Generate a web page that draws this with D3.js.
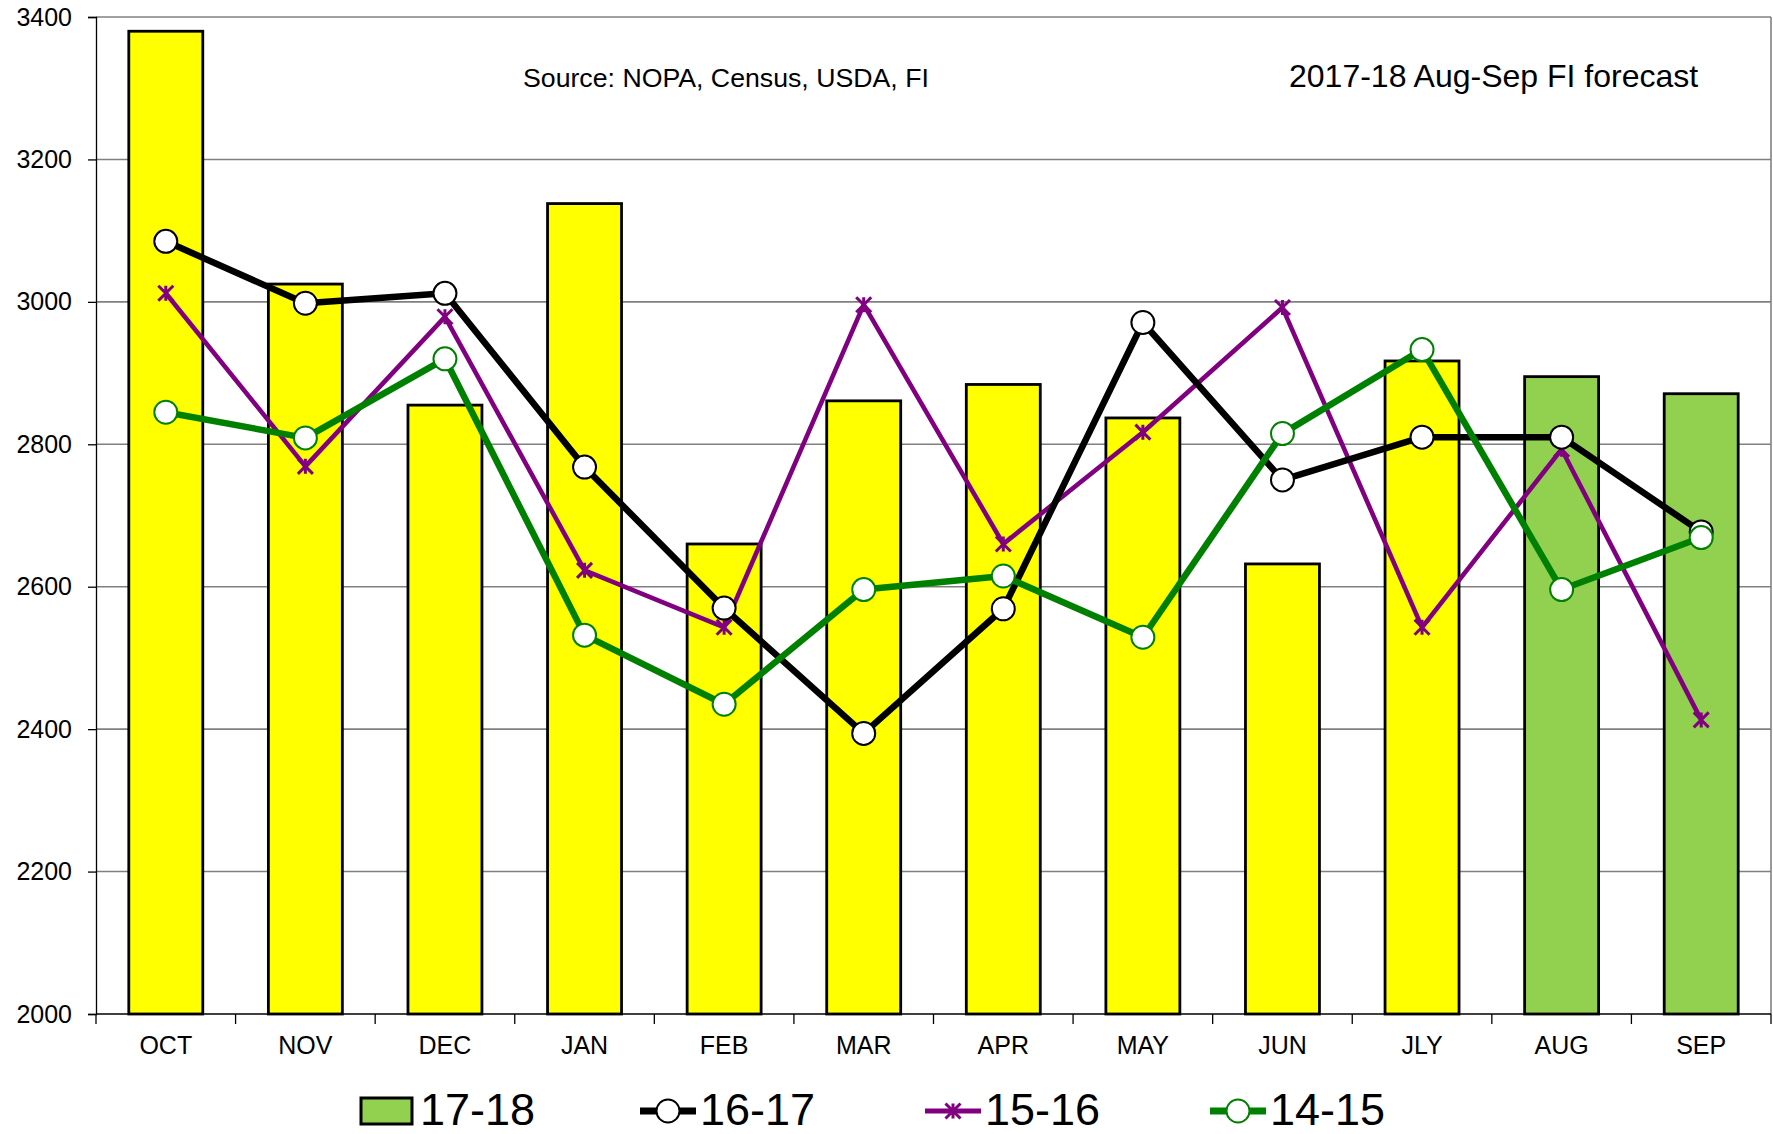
<!DOCTYPE html>
<html>
<head>
<meta charset="utf-8">
<script src="https://cdn.jsdelivr.net/npm/d3@7"></script>
<style>
  html, body { margin: 0; padding: 0; background: #fff; }
  svg { display: block; font-family: "Liberation Sans", Arial, sans-serif; }
</style>
</head>
<body>
<svg id="chart" width="1773" height="1134"></svg>
<script>
const months = ["OCT","NOV","DEC","JAN","FEB","MAR","APR","MAY","JUN","JLY","AUG","SEP"];
const bars1718 = [3380, 3025, 2855, 3138, 2660, 2861, 2884, 2837, 2632, 2917, 2895, 2871];
const forecastMonths = ["AUG","SEP"];
const s1617 = [3085, 2998, 3012, 2768, 2570, 2394, 2569, 2971, 2750, 2810, 2810, 2677];
const s1516 = [3012, 2769, 2979, 2623, 2543, 2996, 2660, 2817, 2992, 2543, 2793, 2413];
const s1415 = [2845, 2809, 2920, 2532, 2435, 2596, 2615, 2529, 2815, 2933, 2596, 2669];
const yTicks = [2000, 2200, 2400, 2600, 2800, 3000, 3200, 3400];
const legendLabels = ["17-18", "16-17", "15-16", "14-15"];
const sourceText = "Source: NOPA, Census, USDA, FI";
const forecastText = "2017-18 Aug-Sep FI forecast";

const svg = d3.select("#chart");
const L = 96, R = 1771, T = 17, B = 1014;

const x = d3.scaleBand().domain(months).range([L, R]).paddingInner(0.47).paddingOuter(0.235);
const xb = d3.scaleBand().domain(months).range([L, R]);
const y = d3.scaleLinear().domain([2000, 3400]).range([B, T]);

// gridlines
svg.append("g").selectAll("line").data(yTicks.slice(1)).join("line")
  .attr("x1", L).attr("x2", R)
  .attr("y1", d => y(d)).attr("y2", d => y(d))
  .attr("stroke", "#808080").attr("stroke-width", 1.6);
// right border
svg.append("line").attr("x1", R).attr("x2", R).attr("y1", T).attr("y2", B)
  .attr("stroke", "#808080").attr("stroke-width", 1.6);

// y axis
const yAxis = d3.axisLeft(y).tickValues(yTicks).tickSize(8).tickPadding(16).tickFormat(d3.format("d"));
const gy = svg.append("g").attr("transform", `translate(${L},0)`).call(yAxis);
gy.select(".domain").attr("stroke", "#000").attr("stroke-width", 1.3);
gy.selectAll(".tick line").attr("stroke", "#000").attr("stroke-width", 1.3);
gy.selectAll("text").attr("font-size", 25).attr("fill", "#000").attr("font-family", "Liberation Sans, Arial, sans-serif");

// bars
svg.append("g").selectAll("rect").data(months).join("rect")
  .attr("x", d => x(d))
  .attr("y", (d, i) => y(bars1718[i]))
  .attr("width", x.bandwidth())
  .attr("height", (d, i) => B - y(bars1718[i]))
  .attr("fill", d => forecastMonths.includes(d) ? "#92D050" : "#FFFF00")
  .attr("stroke", "#000").attr("stroke-width", 2.8);

// x axis
const gx = svg.append("g").attr("transform", `translate(0,${B})`);
gx.append("line").attr("x1", L).attr("x2", R).attr("stroke", "#000").attr("stroke-width", 1.5);
gx.selectAll(".tk").data(months.concat(["END"])).join("line")
  .attr("x1", (d, i) => L + i * xb.bandwidth())
  .attr("x2", (d, i) => L + i * xb.bandwidth())
  .attr("y1", 0).attr("y2", 10).attr("stroke", "#000").attr("stroke-width", 1.3);
gx.selectAll("text").data(months).join("text")
  .attr("x", d => xb(d) + xb.bandwidth() / 2)
  .attr("y", 40)
  .attr("text-anchor", "middle").attr("font-size", 25).attr("fill", "#000")
  .text(d => d);

const cx = d => xb(d) + xb.bandwidth() / 2;
const line = vals => d3.line().x((d, i) => cx(months[i])).y(d => y(d))(vals);

const series = [
  { vals: s1516, color: "#800080", width: 4.6, marker: "star" },
  { vals: s1617, color: "#000000", width: 6.5, marker: "circle" },
  { vals: s1415, color: "#008000", width: 6.5, marker: "circle" }
];

series.forEach(s => {
  svg.append("path").attr("d", line(s.vals))
    .attr("fill", "none").attr("stroke", s.color).attr("stroke-width", s.width)
    .attr("stroke-linejoin", "round");
});

function drawMarker(g, type, color, px, py) {
  if (type === "circle") {
    g.append("circle").attr("cx", px).attr("cy", py).attr("r", 11.5)
      .attr("fill", "#fff").attr("stroke", color).attr("stroke-width", 2);
  } else {
    const r = 7.5;
    const p = `M${px - r},${py - r}L${px + r},${py + r}M${px - r},${py + r}L${px + r},${py - r}M${px},${py - r}L${px},${py + r}`;
    g.append("path").attr("d", p).attr("stroke", color).attr("stroke-width", 3).attr("fill", "none");
  }
}

series.forEach(s => {
  const g = svg.append("g");
  s.vals.forEach((v, i) => drawMarker(g, s.marker, s.color, cx(months[i]), y(v)));
});

// annotations
svg.append("text").attr("x", 523).attr("y", 87).attr("font-size", 26.7).attr("fill", "#000").text(sourceText);
svg.append("text").attr("x", 1289).attr("y", 87).attr("font-size", 32).attr("fill", "#000").text(forecastText);

// legend
const lg = svg.append("g");
const ly = 1111;
lg.append("rect").attr("x", 361).attr("y", 1098).attr("width", 51).attr("height", 26)
  .attr("fill", "#92D050").attr("stroke", "#000").attr("stroke-width", 3);
const legendLines = [
  { x0: 640, color: "#000000", width: 7, marker: "circle" },
  { x0: 925, color: "#800080", width: 5, marker: "star" },
  { x0: 1210, color: "#008000", width: 7, marker: "circle" }
];
legendLines.forEach(l => {
  lg.append("line").attr("x1", l.x0).attr("x2", l.x0 + 56).attr("y1", ly).attr("y2", ly)
    .attr("stroke", l.color).attr("stroke-width", l.width);
  drawMarker(lg, l.marker, l.color, l.x0 + 28, ly);
});
const legendTextX = [420, 700, 985, 1270];
lg.selectAll("text.lt").data(legendLabels).join("text")
  .attr("class", "lt")
  .attr("x", (d, i) => legendTextX[i]).attr("y", 1125)
  .attr("font-size", 45).attr("fill", "#000").text(d => d);
</script>
</body>
</html>
